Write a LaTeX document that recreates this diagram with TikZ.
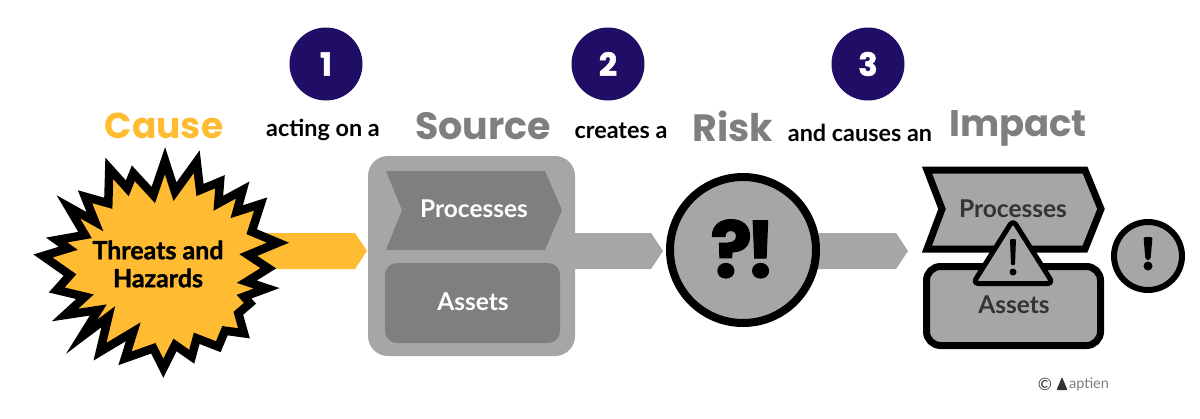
\documentclass[tikz,border=0pt]{standalone}
\usepackage{fontspec}
\setmainfont{Lato}
\newfontfamily\headfont{Poppins}
\newfontfamily\blackfont[BoldFeatures={FakeBold=1.5}]{Lato}
\newfontfamily\headblack[BoldFeatures={FakeBold=1.5}]{Poppins}
\definecolor{amber}{HTML}{FFBC33}
\definecolor{midgrey}{HTML}{A6A6A6}
\definecolor{darkgrey}{HTML}{7F7F7F}
\definecolor{inkgrey}{HTML}{333333}
\definecolor{navy}{HTML}{1F0D66}
\tikzset{
  x=1pt,y=-1pt,
  badge/.style={circle,fill=navy,minimum size=73pt,inner sep=0pt,text=white,font=\headblack\bfseries\fontsize{32}{32}\selectfont},
  heading/.style={font=\headfont\bfseries\fontsize{38}{38}\selectfont,text=darkgrey,inner sep=0pt},
  caption/.style={font=\bfseries\fontsize{23.4}{26}\selectfont,text=black,inner sep=0pt},
  blocklabel/.style={font=\bfseries\fontsize{24.5}{28}\selectfont,inner sep=0pt},
  ink/.style={draw=black,fill=midgrey,line width=7pt,line join=miter},
}
\begin{document}
\begin{tikzpicture}
\useasboundingbox (0,0) rectangle (1200,418);
% badges
\node[badge] (b1) at (326,64) {1};
\node[badge] (b2) at (608,64) {2};
\node[badge] (b3) at (868,64) {3};
% headings
\node[heading,text=amber,font=\headfont\bfseries\fontsize{36}{36}\selectfont] (hcause) at (164,126) {Cause};
\node[heading] (hsource) at (483,126) {Source};
\node[heading] (hrisk) at (733,126) {Risk};
\node[heading,font=\headfont\bfseries\fontsize{37}{37}\selectfont] (himpact) at (1018,128) {Impact};
\node[caption] (c1) at (323,130) {acting on a};
\node[caption] (c2) at (621,131) {creates a};
\node[caption] (c3) at (860,133) {and causes an};
% block arrows
\fill[amber] (255,233) -- (355,233) -- (367,251) -- (355,269) -- (255,269) -- cycle;
\fill[midgrey] (570,233) -- (651,233) -- (663,251) -- (651,269) -- (570,269) -- cycle;
\fill[midgrey] (810,233) -- (896,233) -- (908,251) -- (896,269) -- (810,269) -- cycle;
% star
\draw[fill=amber,draw=black,line width=8.5pt,line join=miter,miter limit=10]
 plot coordinates {
 (165,160.7) (175,191.7) (196.7,161.7) (200,190) (220,181.7) (218.3,203.3)
 (242.7,190) (236.7,211.7) (260.7,204) (251.7,231.7) (278,242.7) (248.3,255)
 (268.3,268.3) (246.7,281.7) (266.7,288.3) (244,296.7) (250,303.3) (238.3,313.3)
 (244,333.3) (225,330.7) (218.3,346.7) (196.7,338.3) (191.7,356.7) (175,345)
 (163.3,368.3) (153.3,348.3) (125,358.3) (133.3,331.7) (100,351.7) (108.3,316.7)
 (81.7,336.7) (98.3,310) (65,315) (85,296.7) (56.7,290) (70,275) (43,256)
 (68.3,248.3) (56.7,240) (85,235) (68.3,206.7) (95,221.7) (85,196.7) (108.3,203.3)
 (109.3,168.3) (127.3,188.3) (133.3,173.3) (153.3,195)
 } -- cycle;
\node[align=center,text=black,inner sep=0pt,font=\blackfont\bfseries\fontsize{25}{28}\selectfont] (threats) at (158,264) {Threats and\\Hazards};
% source
\fill[midgrey,rounded corners=20pt] (368,156) rectangle (575,356);
\fill[darkgrey] (386,171) -- (545,171) -- (562,210) -- (545,250) -- (386,250) -- (402,210) -- cycle;
\node[blocklabel,text=white] (sproc) at (474,209) {Processes};
\fill[darkgrey,rounded corners=12pt] (385,263) rectangle (560,343);
\node[blocklabel,text=white] (sass) at (473,302) {Assets};
% risk
\node[circle,draw=black,fill=midgrey,line width=8pt,minimum size=146pt,inner sep=0pt,font=\headblack\bfseries\fontsize{78}{78}\selectfont] (risk) at (743,250) {\raisebox{3pt}{?\kern-7pt!}};
% impact
\draw[ink] (927,170) -- (1085,170) -- (1101,209) -- (1085,249) -- (927,249) -- (942,209) -- cycle;
\node[blocklabel,text=inkgrey] (iproc) at (1013,209) {Processes};
\draw[ink,rounded corners=14pt] (926.5,266.5) rectangle (1100.5,345.5);
\node[blocklabel,text=inkgrey] (iass) at (1014,305) {Assets};
\draw[draw=black,fill=midgrey,line width=5pt,rounded corners=5pt,line join=round] (1013,220) -- (1053,283.5) -- (973,283.5) -- cycle;
\fill[black,rounded corners=1pt] (1010,239) -- (1016,239) -- (1015,265) -- (1011,265) -- cycle;
\fill[black] (1013,272) circle[radius=3.5pt];
\node[circle,draw=black,fill=midgrey,line width=6pt,minimum size=68pt,inner sep=0pt] (warn) at (1148,256) {};
\fill[black,rounded corners=2pt] (1143.5,237) -- (1152.5,237) -- (1150.5,260) -- (1145.5,260) -- cycle;
\fill[black] (1148,266) circle[radius=4.5pt];
% credit
\node[inner sep=0pt,font=\fontsize{17}{18}\selectfont,text=inkgrey] (copy) at (1045,384) {©};
\fill[inkgrey,rounded corners=1pt] (1062,377) -- (1067.5,390) -- (1056.5,390) -- cycle;
\node[inner sep=0pt,font=\fontsize{14.5}{15}\selectfont,text=darkgrey] (aptien) at (1089,384) {aptien};
\end{tikzpicture}
\end{document}
